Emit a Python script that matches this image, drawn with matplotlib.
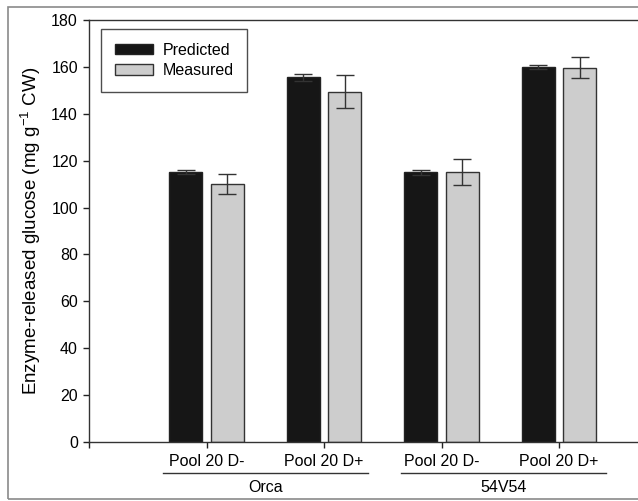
import matplotlib
matplotlib.use("Agg")
import matplotlib.pyplot as plt
import matplotlib.transforms as mtrans
from matplotlib.patches import Rectangle
import numpy as np

plt.rcParams['font.family'] = ['Liberation Sans', 'DejaVu Sans']

conditions = ["Pool 20 D-", "Pool 20 D+", "Pool 20 D-", "Pool 20 D+"]
groups = ["Orca", "54V54"]
predicted = [115.2, 155.5, 115.0, 159.9]
predicted_err = [1.0, 1.4, 1.1, 0.8]
measured = [110.2, 149.5, 115.0, 159.7]
measured_err = [4.3, 7.2, 5.5, 4.5]
yticks = [0, 20, 40, 60, 80, 100, 120, 140, 160, 180]

W, H = 638, 501
FS = 11.5
fig = plt.figure(figsize=(W/100, H/100), dpi=100)
ax = fig.add_axes([89/W, (H-442)/H, 587.5/W, 422/H])

x = np.arange(1, len(conditions) + 1)
bw = 0.28
off = 0.176
ax.bar(x - off, predicted, bw, color="#161616", edgecolor="#222222", linewidth=1.0,
       label="Predicted", zorder=2)
ax.bar(x + off, measured, bw, color="#cdcdcd", edgecolor="#333333", linewidth=1.0,
       label="Measured", zorder=2)
ax.errorbar(x - off, predicted, yerr=predicted_err, fmt="none", ecolor="#333333",
            elinewidth=1.0, capsize=6.5, capthick=1.0, zorder=3)
ax.errorbar(x + off, measured, yerr=measured_err, fmt="none", ecolor="#333333",
            elinewidth=1.0, capsize=6.5, capthick=1.0, zorder=3)

ax.set_xlim(0, 5)
ax.set_ylim(0, 180)
ax.set_yticks(yticks)
ax.set_xticks([0] + list(x))
ax.set_xticklabels([""] + conditions)
ax.tick_params(axis="both", direction="out", length=4, width=1.0, color="#222222",
               labelsize=FS, pad=4)
ax.tick_params(axis="x", pad=5)
for s in ax.spines.values():
    s.set_color("#333333")
    s.set_linewidth(1.0)
ax.spines["right"].set_visible(False)

ax.set_ylabel("Enzyme-released glucose (mg g$^{\\mathregular{-1}}$ CW)", fontsize=13.5,
              labelpad=6)

leg = ax.legend(loc="upper left", bbox_to_anchor=(12/587.5, 1 - 9/422), fontsize=FS,
                frameon=True, fancybox=False, edgecolor="#222222", handlelength=2.4,
                handleheight=0.66, borderpad=0.85, labelspacing=0.35, handletextpad=0.6,
                borderaxespad=0)
leg.get_frame().set_linewidth(1.0)

tr = mtrans.blended_transform_factory(ax.transData, fig.transFigure)
group_spans = [(0.63, 2.374), (2.655, 4.40)]
for name, (a, b) in zip(groups, group_spans):
    ax.plot([a, b], [(H-473)/H]*2, transform=tr, color="#333333", lw=1.0,
            clip_on=False)
    ax.text((a + b) / 2, (H-488)/H, name, transform=tr, ha="center", va="center",
            fontsize=FS)

fig.add_artist(Rectangle((8/W, 2/H), 1.0, (H-9)/H, transform=fig.transFigure,
                         fill=False, edgecolor="#8a8a8a", linewidth=1.2))

fig.savefig("out.png", dpi=100)
